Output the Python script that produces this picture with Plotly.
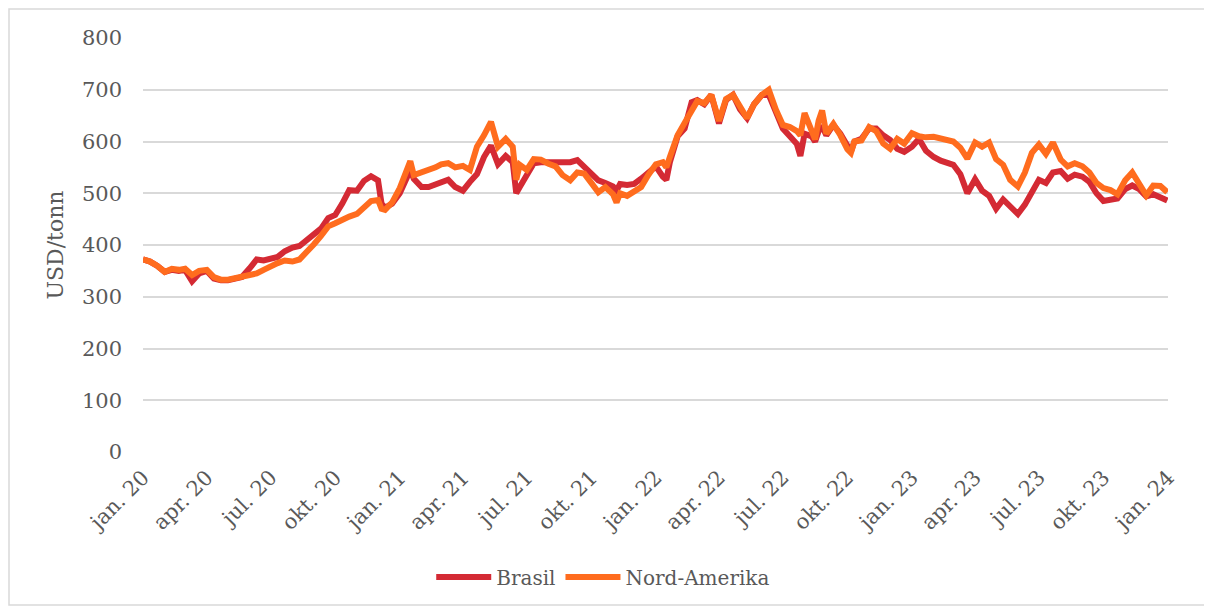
import plotly.graph_objects as go

dates = [
    "2020-01-01","2020-01-11","2020-01-21","2020-02-01","2020-02-11","2020-02-21",
    "2020-03-01","2020-03-11","2020-03-21","2020-04-01","2020-04-11","2020-04-21",
    "2020-05-01","2020-05-11","2020-05-21","2020-06-01","2020-06-11","2020-06-21",
    "2020-07-01","2020-07-11","2020-07-21","2020-08-01","2020-08-11","2020-08-21",
    "2020-09-01","2020-09-11","2020-09-21","2020-10-01","2020-10-11","2020-10-21",
    "2020-11-01","2020-11-11","2020-11-21","2020-12-01","2020-12-06","2020-12-11","2020-12-21",
    "2021-01-01","2021-01-11","2021-01-16","2021-01-21","2021-02-01","2021-02-11","2021-02-21",
    "2021-03-01","2021-03-11","2021-03-21","2021-04-01","2021-04-11","2021-04-21",
    "2021-05-01","2021-05-11","2021-05-21","2021-06-01","2021-06-11","2021-06-16","2021-06-21",
    "2021-07-01","2021-07-11","2021-07-21","2021-08-01","2021-08-11","2021-08-21",
    "2021-09-01","2021-09-11","2021-09-21","2021-10-01","2021-10-11","2021-10-21",
    "2021-11-01","2021-11-06","2021-11-11","2021-11-21","2021-12-01","2021-12-11","2021-12-21",
    "2022-01-01","2022-01-11","2022-01-16","2022-01-21","2022-02-01","2022-02-11","2022-02-21",
    "2022-03-01","2022-03-11","2022-03-21","2022-04-01","2022-04-11","2022-04-21",
    "2022-05-01","2022-05-11","2022-05-21","2022-06-01","2022-06-11","2022-06-16","2022-06-21",
    "2022-07-01","2022-07-11","2022-07-21","2022-07-26","2022-08-01","2022-08-11","2022-08-16",
    "2022-08-21","2022-08-26","2022-09-01","2022-09-11","2022-09-21",
    "2022-10-01","2022-10-06","2022-10-11","2022-10-21","2022-11-01","2022-11-11","2022-11-21",
    "2022-12-01","2022-12-11","2022-12-21",
    "2023-01-01","2023-01-11","2023-01-21","2023-02-01","2023-02-11","2023-02-21",
    "2023-03-01","2023-03-11","2023-03-21","2023-04-01","2023-04-11","2023-04-21",
    "2023-05-01","2023-05-11","2023-05-21","2023-06-01","2023-06-11","2023-06-21",
    "2023-07-01","2023-07-11","2023-07-21","2023-08-01","2023-08-11","2023-08-21",
    "2023-09-01","2023-09-11","2023-09-21","2023-10-01","2023-10-11","2023-10-21",
    "2023-11-01","2023-11-11","2023-11-21","2023-12-01","2023-12-11","2023-12-21","2023-12-31",
]

brasil = [
    372, 368, 360, 348, 352, 350,
    352, 330, 345, 350, 335, 332,
    332, 336, 338, 355, 372, 370,
    374, 377, 388, 395, 398, 408,
    420, 432, 452, 458, 480, 506,
    505, 524, 533, 525, 480, 472, 480,
    500, 530, 545, 528, 512, 512, 516,
    522, 526, 512, 505, 522, 537,
    570, 592, 556, 572, 560, 500, 512,
    535, 558, 560, 560, 560, 558,
    560, 564, 552, 540, 525, 520,
    513, 505, 518, 516, 518, 528, 540,
    552, 532, 526, 560, 610, 625, 676,
    680, 672, 690, 635, 680, 690,
    662, 645, 672, 690, 690, 675, 660,
    625, 610, 595, 572, 615, 610, 600,
    620, 630, 612, 632, 615,
    590, 580, 600, 605, 625, 625, 612,
    603, 586, 580,
    590, 605, 582, 570, 563, 558,
    555, 537, 500, 527, 505, 495,
    470, 488, 474, 460, 478, 502,
    526, 520, 540, 543, 528, 536,
    532, 522, 500, 485, 488, 490,
    508, 515, 508, 494, 498, 492, 486,
]

nord_amerika = [
    372, 368, 360, 348, 354, 352,
    354, 342, 350, 352, 338, 333,
    333, 336, 338, 340, 345, 352,
    360, 365, 370, 368, 372, 385,
    402, 418, 436, 442, 450, 455,
    460, 472, 485, 487, 470, 468, 482,
    510, 550, 562, 535, 540, 545, 550,
    556, 558, 550, 553, 545, 590,
    612, 638, 590, 605, 590, 526, 555,
    545, 566, 565, 557, 552, 535,
    525, 540, 538, 520, 502, 512,
    498, 482, 500, 495, 502, 512, 535,
    556, 560, 550, 570, 612, 636, 660,
    678, 674, 690, 640, 682, 690,
    665, 645, 672, 690, 700, 678, 662,
    632, 628, 620, 612, 655, 625, 604,
    640, 660, 615, 634, 612,
    585, 578, 600, 602, 628, 620, 596,
    586, 605, 596,
    616, 610, 608, 609, 605, 602,
    600, 588, 567, 598, 590, 598,
    566, 555, 526, 513, 540, 578,
    594, 576, 598, 565, 552, 558,
    552, 540, 520, 510, 506, 498,
    525, 540, 520, 496, 515, 514, 502,
]

tick_vals = ["2020-01-01","2020-04-01","2020-07-01","2020-10-01",
             "2021-01-01","2021-04-01","2021-07-01","2021-10-01",
             "2022-01-01","2022-04-01","2022-07-01","2022-10-01",
             "2023-01-01","2023-04-01","2023-07-01","2023-10-01","2024-01-01"]
tick_text = ["jan. 20","apr. 20","jul. 20","okt. 20",
             "jan. 21","apr. 21","jul. 21","okt. 21",
             "jan. 22","apr. 22","jul. 22","okt. 22",
             "jan. 23","apr. 23","jul. 23","okt. 23","jan. 24"]

FONT = "Georgia, 'DejaVu Serif', serif"
TXT = "#595959"
GRID = "#D9D9D9"

# page has an 8px body offset; figure is sized so the plot lands at x 143-1168, y 38-452
OFF = 8
W, H = 1212 - OFF, 608 - OFF
L, R, T, B = 143 - OFF, 44, 38 - OFF, 156
PW = W - L - R
PH = H - T - B

fig = go.Figure()
fig.add_trace(go.Scatter(x=dates, y=brasil, mode="lines", name="Brasil",
                         line=dict(color="#D42A34", width=6)))
fig.add_trace(go.Scatter(x=dates, y=nord_amerika, mode="lines", name="Nord-Amerika",
                         line=dict(color="#FF6C1E", width=6)))

fig.update_layout(
    width=W, height=H,
    margin=dict(l=L, r=R, t=T, b=B),
    paper_bgcolor="white", plot_bgcolor="white",
    font=dict(family=FONT, size=20, color=TXT),
    showlegend=True,
    legend=dict(orientation="h", x=0.449, xanchor="center", y=-0.302, yanchor="middle",
                font=dict(family=FONT, size=20, color=TXT), itemwidth=55),
    xaxis=dict(type="date", range=["2020-01-01", "2024-01-01"],
               tickmode="array", tickvals=tick_vals, ticktext=tick_text,
               tickangle=-45, showgrid=False, zeroline=False, showline=False,
               ticks="", ticklabelstandoff=8,
               tickfont=dict(family=FONT, size=21, color=TXT)),
    yaxis=dict(range=[0, 800], dtick=100, tick0=0, showgrid=True, gridcolor=GRID,
               gridwidth=1.5, zeroline=False, showline=False, ticks="",
               ticklabelstandoff=20,
               tickfont=dict(family=FONT, size=21, color=TXT),
               title=dict(text="USD/tonn", font=dict(family=FONT, size=22, color=TXT),
                          standoff=12)),
    shapes=[dict(type="rect", xref="paper", yref="paper",
                 x0=(1 - L) / PW, x1=(1205 - OFF - L) / PW,
                 y0=(T + PH - (605 - OFF)) / PH, y1=(T + PH - (9 - OFF)) / PH,
                 line=dict(color=GRID, width=1.5), fillcolor="rgba(0,0,0,0)", layer="below")],
)

fig.write_html("out.html")
